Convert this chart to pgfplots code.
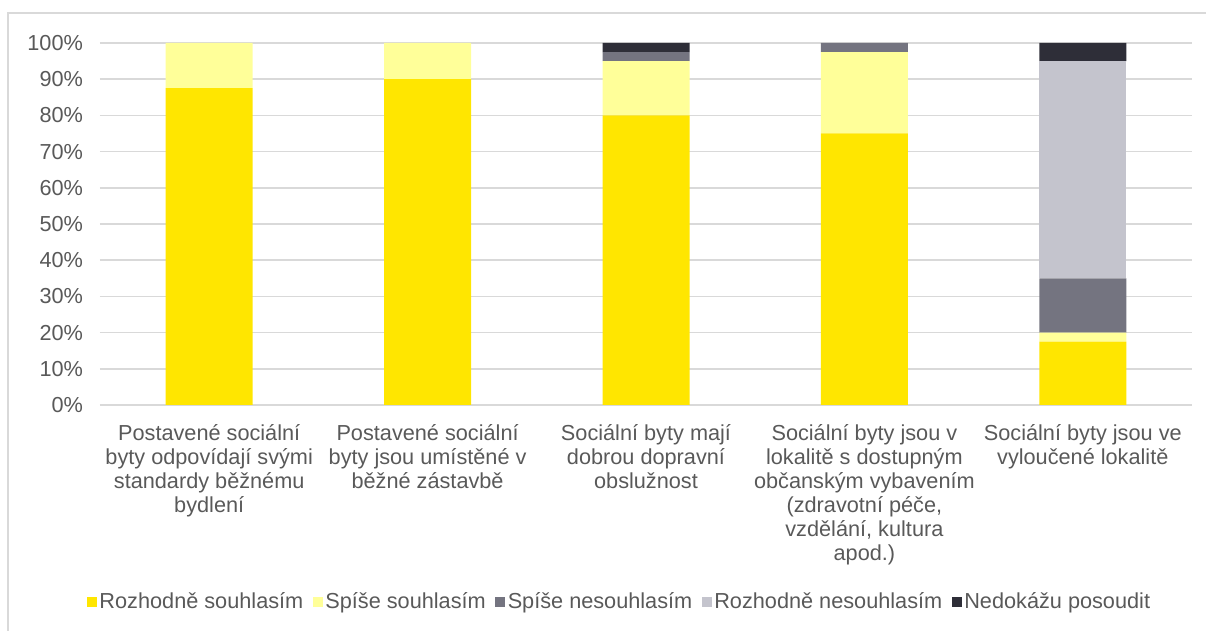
\documentclass[border=0pt]{standalone}
\usepackage{pgfplots}
\pgfplotsset{compat=1.18}
\usepackage{fontspec}
\setmainfont{Liberation Sans}
\definecolor{eyyellow}{HTML}{FFE600}
\definecolor{eylight}{HTML}{FFFF99}
\definecolor{eygray}{HTML}{747480}
\definecolor{eylgray}{HTML}{C4C4CD}
\definecolor{eydark}{HTML}{2E2E38}
\definecolor{txt}{HTML}{595959}
\definecolor{gridc}{HTML}{D9D9D9}
\begin{document}
\begin{tikzpicture}
\path[use as bounding box] (0pt,0pt) rectangle (603pt,315.5pt);
\draw[gridc, line width=0.75pt] (4pt,-3pt) -- (4pt,309pt) -- (608pt,309pt);
\begin{axis}[
  at={(50pt,113pt)}, anchor=south west,
  scale only axis, width=546pt, height=181pt,
  ybar stacked, bar width=43.5pt,
  xmin=-0.5, xmax=4.5, ymin=0, ymax=100,
  xtick={0,1,2,3,4},
  xticklabels={
    {Postavené sociální\\byty odpovídají svými\\standardy běžnému\\bydlení},
    {Postavené sociální\\byty jsou umístěné v\\běžné zástavbě},
    {Sociální byty mají\\dobrou dopravní\\obslužnost},
    {Sociální byty jsou v\\lokalitě s dostupným\\občanským vybavením\\(zdravotní péče,\\vzdělání, kultura\\apod.)},
    {Sociální byty jsou ve\\vyloučené lokalitě}},
  xticklabel style={align=center, font=\fontsize{10.85}{12}\selectfont, text=txt, yshift=-6pt},
  ytick={0,10,...,100},
  yticklabel={\pgfmathprintnumber{\tick}\%},
  /pgf/number format/assume math mode=true,
  yticklabel style={font=\fontsize{10.85}{12}\selectfont, text=txt, xshift=-5pt},
  ymajorgrids, major grid style={gridc, line width=0.75pt},
  axis line style={draw=none},
  tick style={draw=none},
  legend style={at={(0.476,-0.544)}, anchor=center, draw=none, fill=none,
    legend columns=-1, font=\fontsize{10.85}{12}\selectfont, text=txt,
    nodes={inner xsep=1.2pt},
    /tikz/every even column/.append style={column sep=3.6pt},
    inner sep=0pt},
  legend cell align=left,
  legend image code/.code={\fill[#1] (0pt,-2.5pt) rectangle (5pt,2.5pt);},
]
\addplot[fill=eyyellow, draw=none] coordinates {(0,87.5) (1,90) (2,80) (3,75) (4,17.5)};
\addplot[fill=eylight, draw=none] coordinates {(0,12.5) (1,10) (2,15) (3,22.5) (4,2.5)};
\addplot[fill=eygray, draw=none] coordinates {(0,0) (1,0) (2,2.5) (3,2.5) (4,15)};
\addplot[fill=eylgray, draw=none] coordinates {(0,0) (1,0) (2,0) (3,0) (4,60)};
\addplot[fill=eydark, draw=none] coordinates {(0,0) (1,0) (2,2.5) (3,0) (4,5)};
\legend{Rozhodně souhlasím, Spíše souhlasím, Spíše nesouhlasím, Rozhodně nesouhlasím, Nedokážu posoudit}
\end{axis}
\end{tikzpicture}
\end{document}
